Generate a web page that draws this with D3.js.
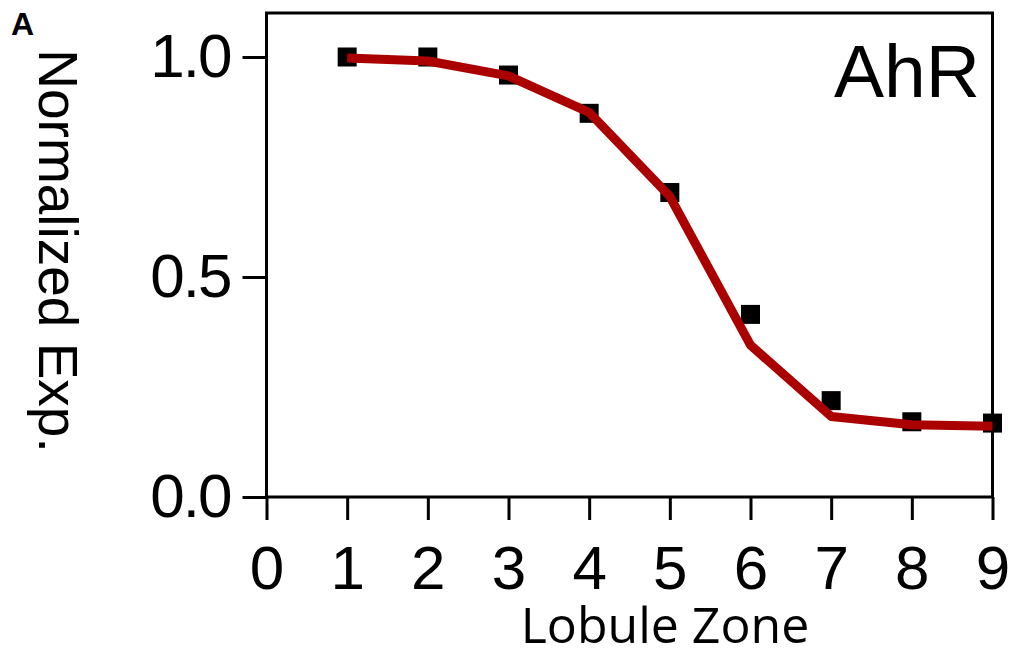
<!DOCTYPE html>
<html>
<head>
<meta charset="utf-8">
<script src="https://cdn.jsdelivr.net/npm/d3@7"></script>
<style>
  html, body { margin: 0; padding: 0; background: #fff; }
  svg { display: block; }
</style>
</head>
<body>
<svg id="chart" width="1011" height="649"></svg>
<script>
// Lobule zones and AhR expression (normalized to zone 1)
const zones = [1, 2, 3, 4, 5, 6, 7, 8, 9];
const measured = [1.0, 1.0, 0.959, 0.872, 0.692, 0.415, 0.219, 0.171, 0.168];
const fitted = [0.998, 0.991, 0.957, 0.874, 0.683, 0.345, 0.183, 0.164, 0.161];
const xTicks = [0, 1, 2, 3, 4, 5, 6, 7, 8, 9];
const yTicks = [0, 0.5, 1.0];

const svg = d3.select("#chart");
const plotLeft = 266.5, plotRight = 992.5, plotTop = 13, plotBottom = 497;

const x = d3.scaleLinear().domain([0, 9]).range([plotLeft, plotRight]);
const y = d3.scaleLinear().domain([0, 1.1]).range([plotBottom, plotTop]);

// Plot frame
svg.append("rect")
  .attr("x", plotLeft).attr("y", plotTop)
  .attr("width", plotRight - plotLeft).attr("height", plotBottom - plotTop)
  .attr("fill", "none").attr("stroke", "#000").attr("stroke-width", 3);

// Axes
const axisFont = "'Liberation Sans', Arial, Helvetica, sans-serif";

const gx = svg.append("g")
  .attr("transform", `translate(0,${plotBottom})`)
  .call(d3.axisBottom(x).tickValues(xTicks).tickFormat(d3.format("d"))
    .tickSize(23).tickSizeOuter(0).tickPadding(25));
gx.select(".domain").remove();
gx.selectAll(".tick line").attr("stroke", "#000").attr("stroke-width", 3);
gx.selectAll(".tick text").attr("font-family", axisFont).attr("font-size", 62).attr("fill", "#000");

const gy = svg.append("g")
  .attr("transform", `translate(${plotLeft},0)`)
  .call(d3.axisLeft(y).tickValues(yTicks).tickFormat(d3.format(".1f"))
    .tickSize(24).tickSizeOuter(0).tickPadding(12));
gy.select(".domain").remove();
gy.selectAll(".tick line").attr("stroke", "#000").attr("stroke-width", 3);
gy.selectAll(".tick text").attr("font-family", axisFont).attr("font-size", 62)
  .attr("letter-spacing", -2).attr("fill", "#000");

// Measured points
const sq = 19;
svg.append("g").selectAll("rect")
  .data(zones)
  .join("rect")
  .attr("x", (d) => x(d) - sq / 2)
  .attr("y", (d, i) => y(measured[i]) - sq / 2)
  .attr("width", sq).attr("height", sq)
  .attr("fill", "#000");

// Fitted curve
const line = d3.line()
  .x((d) => x(d))
  .y((d, i) => y(fitted[i]));
svg.append("path")
  .datum(zones)
  .attr("d", line)
  .attr("fill", "none")
  .attr("stroke", "#aa0000")
  .attr("stroke-width", 9)
  .attr("stroke-linejoin", "round");

// Labels
svg.append("text")
  .attr("x", 980).attr("y", 97)
  .attr("text-anchor", "end")
  .attr("font-family", axisFont).attr("font-size", 75)
  .text("AhR");

svg.append("text")
  .attr("transform", "translate(39,251) rotate(90)")
  .attr("text-anchor", "middle")
  .attr("font-family", axisFont).attr("font-size", 55)
  .text("Normalized Exp.");

svg.append("text")
  .attr("x", 665).attr("y", 643)
  .attr("text-anchor", "middle")
  .attr("font-family", "'Open Sans', sans-serif").attr("font-size", 50)
  .text("Lobule Zone");

svg.append("text")
  .attr("x", 11).attr("y", 35)
  .attr("font-family", axisFont).attr("font-size", 32).attr("font-weight", "bold")
  .text("A");
</script>
</body>
</html>
